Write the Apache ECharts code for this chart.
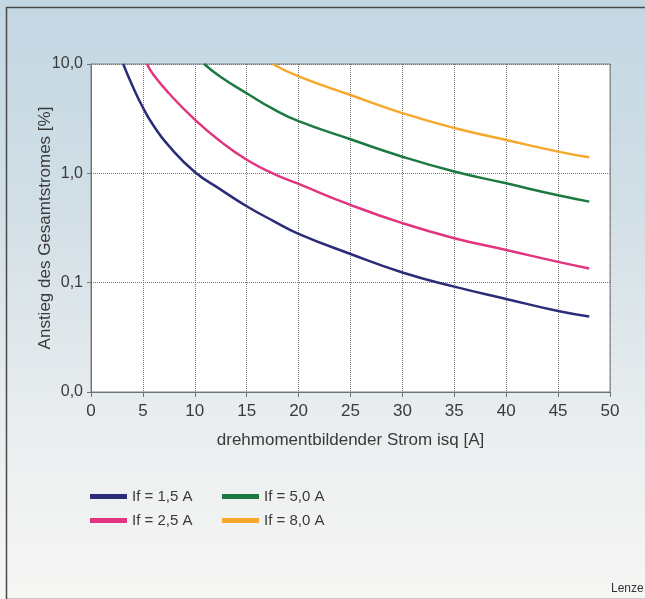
<!DOCTYPE html>
<html lang="de">
<head>
<meta charset="UTF-8">
<title>Anstieg des Gesamtstromes</title>
<script src="https://cdn.jsdelivr.net/npm/echarts@6/dist/echarts.min.js"></script>
<style>
  html, body { margin: 0; padding: 0; }
  #main { width: 645px; height: 599px; }
</style>
</head>
<body>
<div id="main"></div>
<script type="text/javascript">
var if15 = [[3.1, 10], [4, 6.3], [5, 4.0], [6, 2.75], [7.5, 1.78], [10, 1.03], [12.5, 0.71], [15, 0.5], [17.5, 0.37], [20, 0.28], [25, 0.183], [30, 0.124], [35, 0.092], [40, 0.071], [45, 0.055], [48, 0.049]];
var if25 = [[5.4, 10], [6, 8.0], [7.5, 5.4], [10, 3.1], [12.5, 1.95], [15, 1.33], [17.5, 1.0], [20, 0.8], [25, 0.514], [30, 0.35], [35, 0.255], [40, 0.199], [45, 0.155], [48, 0.135]];
var if50 = [[10.9, 10], [12.5, 7.6], [15, 5.4], [17.5, 3.9], [20, 3.0], [25, 2.05], [30, 1.42], [35, 1.04], [40, 0.81], [45, 0.63], [48, 0.551]];
var if80 = [[17.5, 10], [20, 7.7], [25, 5.2], [30, 3.55], [35, 2.6], [40, 2.02], [45, 1.58], [48, 1.40]];

var names = ['If = 1,5 A', 'If = 2,5 A', 'If = 5,0 A', 'If = 8,0 A'];
var colors = ['#2b2c78', '#e2357f', '#1b7a42', '#f6a82a'];
var curves = [if15, if25, if50, if80];

var textColor = '#3a3a3a';
var fontFam = '"Liberation Sans", Arial, sans-serif';

var myChart = echarts.init(document.getElementById('main'));

var option = {
  backgroundColor: {
    type: 'linear', x: 0, y: 0, x2: 0, y2: 1,
    colorStops: [
      { offset: 0, color: '#c3d7e3' },
      { offset: 0.35, color: '#d2dfe6' },
      { offset: 0.75, color: '#eceff0' },
      { offset: 1, color: '#f6f6f4' }
    ]
  },
  animation: false,
  textStyle: { fontFamily: fontFam },
  grid: {
    left: 91, right: 35, top: 64, bottom: 207,
    show: true, backgroundColor: '#ffffff', borderColor: '#7a7f84', borderWidth: 1
  },
  graphic: [
    {
      type: 'rect', left: 4, top: 5, silent: true,
      shape: { width: 700, height: 592 },
      style: { fill: 'none', stroke: '#4a4a4a', lineWidth: 1.5 }
    },
    {
      type: 'text', left: 611, top: 583,
      style: { text: 'Lenze', fill: '#333', font: '12px ' + fontFam }
    }
  ],
  legend: [
    {
      orient: 'vertical', left: 85, top: 484, itemWidth: 37, itemHeight: 5, itemGap: 9,
      icon: 'rect', data: [names[0], names[1]],
      textStyle: { fontSize: 15, color: textColor }
    },
    {
      orient: 'vertical', left: 217, top: 484, itemWidth: 37, itemHeight: 5, itemGap: 9,
      icon: 'rect', data: [names[2], names[3]],
      textStyle: { fontSize: 15, color: textColor }
    }
  ],
  xAxis: {
    type: 'value', min: 0, max: 50, interval: 5,
    name: 'drehmomentbildender Strom isq [A]',
    nameLocation: 'middle', nameGap: 40, nameMoveOverlap: false,
    nameTextStyle: { fontSize: 17, color: textColor },
    axisLine: { lineStyle: { color: '#6d7277' } },
    axisTick: { length: 5, lineStyle: { color: '#6d7277' } },
    axisLabel: { fontSize: 17, color: textColor, margin: 11 },
    splitLine: { lineStyle: { type: 'dotted', color: '#777', width: 1 } }
  },
  yAxis: {
    type: 'log', logBase: 10, min: 0.01, max: 10,
    name: 'Anstieg des Gesamtstromes [%]',
    nameLocation: 'middle', nameGap: 37, nameMoveOverlap: false,
    nameTextStyle: { fontSize: 17, color: textColor },
    axisLine: { show: true, lineStyle: { color: '#6d7277' } },
    axisTick: { show: true, length: 4, lineStyle: { color: '#6d7277' } },
    axisLabel: {
      fontSize: 16, color: textColor, margin: 8,
      formatter: function (v) {
        if (v < 0.05) return '0,0';
        return v.toFixed(1).replace('.', ',');
      }
    },
    splitLine: { lineStyle: { type: 'dotted', color: '#777', width: 1 } }
  },
  series: curves.map(function (d, i) {
    return {
      name: names[i], type: 'line', data: d, smooth: 0.5,
      showSymbol: false, symbol: 'none', color: colors[i],
      lineStyle: { width: 2.5, color: colors[i] }
    };
  })
};

myChart.setOption(option);
</script>
</body>
</html>
